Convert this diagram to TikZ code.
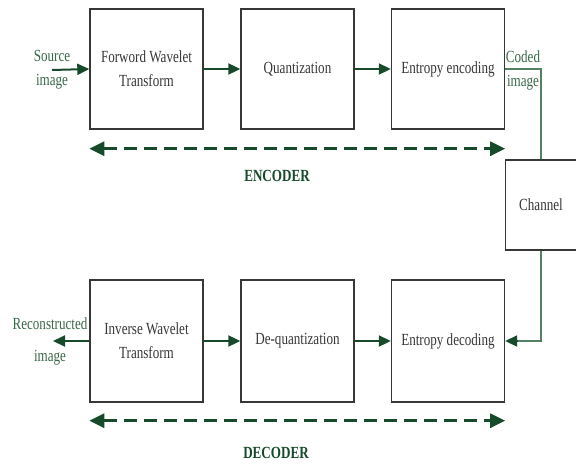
\documentclass[tikz,border=0pt]{standalone}
\usepackage{fontspec}
\setmainfont[FakeStretch=0.77]{Liberation Serif}
\usepackage{tikz}
\usetikzlibrary{arrows.meta}
\definecolor{arrowgreen}{RGB}{22,74,42}
\definecolor{textgreen}{RGB}{58,104,74}
\definecolor{linegreen}{RGB}{84,128,100}
\definecolor{boxgray}{RGB}{55,55,55}

\begin{document}
\begin{tikzpicture}[x=1pt,y=-1pt,
  block/.style={draw=boxgray,line width=1.4pt,fill=white,minimum width=113pt,
    align=center,text=boxgray,font=\fontsize{17}{24}\selectfont},
  flow/.style={draw=arrowgreen,line width=2pt,-{Triangle[length=12pt,width=11pt]}},
  span/.style={draw=arrowgreen,line width=3pt,dash pattern=on 13pt off 7pt,
    {Triangle[length=15pt,width=14pt]}-{Triangle[length=15pt,width=14pt]}},
  side/.style={text=textgreen,align=center,font=\fontsize{17}{24}\selectfont},
  title/.style={text=arrowgreen,font=\fontsize{17}{20}\selectfont\bfseries}]
\useasboundingbox (0,0) rectangle (576,464);
\fill[white] (0,0) rectangle (576,464);

% Encoder row
\node[block,minimum height=120pt] (fwt) at (146.5,69) {Forword Wavelet\\Transform};
\node[block,minimum height=120pt] (quant) at (297.5,69) {Quantization};
\node[block,minimum height=120pt] (enc) at (448,69) {Entropy encoding};
\node[side] (src) at (52,70) {Source\\image};
\coordinate (srcin) at (52,70);
\draw[flow] (srcin) -- (fwt.west);
\draw[flow] (fwt.east) -- (quant.west);
\draw[flow] (quant.east) -- (enc.west);
\draw[span] ([yshift=-19pt]fwt.south west) -- ([yshift=-19pt]enc.south east);
\node[title] (encoder) at (277,176) {ENCODER};

% Channel
\node[block,minimum width=71pt,minimum height=90pt] (chan) at (541,205) {Channel};
\node[side] (coded) at (523,70) {Coded\\image};
\draw[draw=linegreen,line width=1.6pt] (enc.east) -| (chan.north);

% Decoder row
\node[block,minimum height=122pt] (iwt) at (146.5,341) {Inverse Wavelet\\Transform};
\node[block,minimum height=122pt] (deq) at (297.5,341) {De-quantization};
\node[block,minimum height=122pt] (dec) at (448,341) {Entropy decoding};
\draw[draw=linegreen,line width=1.6pt] (chan.south) |- ([xshift=12pt]dec.east);
\draw[flow] ([xshift=13pt]dec.east) -- (dec.east);
\draw[flow] (iwt.east) -- (deq.west);
\draw[flow] (deq.east) -- (dec.west);
\node[side] (rec) at (50,341) {Reconstructed\\[8pt]image};
\coordinate (recout) at (53,341);
\draw[flow] (iwt.west) -- (recout);
\draw[span] ([yshift=-18pt]iwt.south west) -- ([yshift=-18pt]dec.south east);
\node[title] (decoder) at (276,453) {DECODER};
\end{tikzpicture}
\end{document}
